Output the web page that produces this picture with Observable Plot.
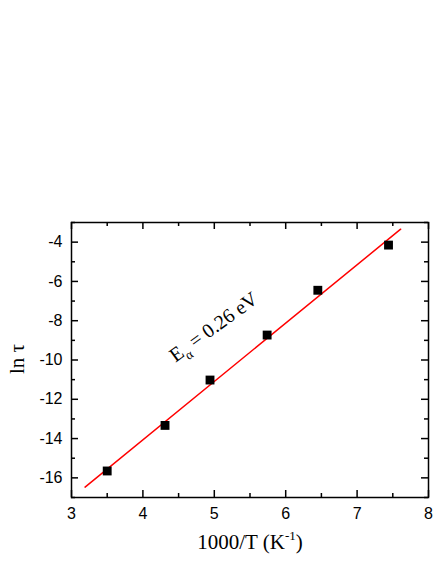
<!DOCTYPE html>
<html><head><meta charset="utf-8">
<script src="https://cdn.jsdelivr.net/npm/d3@7"></script>
<script src="https://cdn.jsdelivr.net/npm/@observablehq/plot@0.6"></script>
<style>body{margin:0;background:#fff}</style>
</head><body><div id="chart"></div>
<script>
// Data
const invT = [3.50, 4.31, 4.94, 5.74, 6.45, 7.44];          // 1000/T (K^-1)
const lnTau = [-15.65, -13.33, -11.02, -8.73, -6.45, -4.15];  // ln tau
const fitX = [3.19, 7.61];    // fitted line end points
const fitY = [-16.47, -3.34];
const xMajor = [3, 4, 5, 6, 7, 8];
const xMinor = [3.5, 4.5, 5.5, 6.5, 7.5];
const yMajor = [-16, -14, -12, -10, -8, -6, -4];
const yMinor = [-17, -15, -13, -11, -9, -7, -5, -3];
const annotText = ["Eα = 0.26 eV"];
const annotX = [4.99];
const annotY = [-8.32];
const xLabel = "1000/T (K-1)";
const yLabel = "ln τ";

const W = 436, H = 564;
const mL = 71, mR = 8, mT = 222, mB = 67;
const plotW = W - mL - mR, plotH = H - mT - mB;
const majLen = 7, minLen = 4;

const points = invT.map((x, i) => ({x, y: lnTau[i]}));
const fit = fitX.map((x, i) => ({x, y: fitY[i]}));

const tickStyle = {stroke: "black", strokeWidth: 1.5};
const serif = "Liberation Serif, Times New Roman, serif";
const sans = "Liberation Sans, Arial, sans-serif";

const chart = Plot.plot({
  width: W, height: H,
  marginLeft: mL, marginRight: mR, marginTop: mT, marginBottom: mB,
  style: {background: "white", overflow: "visible"},
  x: {domain: [3, 8]},
  y: {domain: [-17, -3]},
  marks: [
    // tick labels
    Plot.axisX({ticks: xMajor, tickSize: 0, tickPadding: 10, tickFormat: d => String(d),
      fontSize: 16, fontFamily: sans, label: null, fill: "black"}),
    Plot.axisY({ticks: yMajor, tickSize: 0, tickPadding: 9, tickFormat: d => String(d),
      fontSize: 16, fontFamily: sans, label: null, fill: "black"}),
    // inward ticks on all sides
    Plot.tickX(xMajor, {x: d => d, insetTop: plotH - majLen, ...tickStyle}),
    Plot.tickX(xMinor, {x: d => d, insetTop: plotH - minLen, ...tickStyle}),
    Plot.tickX(xMajor, {x: d => d, insetBottom: plotH - majLen, ...tickStyle}),
    Plot.tickX(xMinor, {x: d => d, insetBottom: plotH - minLen, ...tickStyle}),
    Plot.tickY(yMajor, {y: d => d, insetRight: plotW - majLen, ...tickStyle}),
    Plot.tickY(yMinor, {y: d => d, insetRight: plotW - minLen, ...tickStyle}),
    Plot.tickY(yMajor, {y: d => d, insetLeft: plotW - majLen, ...tickStyle}),
    Plot.tickY(yMinor, {y: d => d, insetLeft: plotW - minLen, ...tickStyle}),
    Plot.frame({stroke: "black", strokeWidth: 1.5}),
    // fit line
    Plot.line(fit, {x: "x", y: "y", stroke: "#ff0000", strokeWidth: 1.5}),
    // data
    Plot.dot(points, {x: "x", y: "y", symbol: "square", r: 5, fill: "black", stroke: "none"}),
    // annotation
    Plot.text(annotText, {x: annotX, y: annotY, text: d => d, rotate: -36,
      fontSize: 20, fontFamily: serif, fill: "black"}),
    // axis titles
    Plot.text([xLabel], {frameAnchor: "bottom", dy: 51, text: d => d, fontSize: 21,
      fontFamily: serif, fill: "black"}),
    Plot.text([yLabel], {frameAnchor: "left", dx: -54, dy: 14, rotate: -90, text: d => d, fontSize: 21,
      fontFamily: serif, fill: "black"})
  ]
});
document.getElementById("chart").append(chart);

// sub/superscripts
const svg = d3.select(chart);
const byText = s => svg.selectAll("text").filter(function () { return this.textContent === s; });
const a = byText(annotText[0]);
a.text(null);
a.append("tspan").text("E");
a.append("tspan").attr("font-size", 13).attr("dy", 6).text("α");
a.append("tspan").attr("dy", -6).text(" = 0.26 eV");
const xl = byText(xLabel);
xl.text(null);
xl.append("tspan").text("1000/T (K");
xl.append("tspan").attr("font-size", 13).attr("dy", -9).text("-1");
xl.append("tspan").attr("dy", 9).text(")");
</script>
</body></html>
